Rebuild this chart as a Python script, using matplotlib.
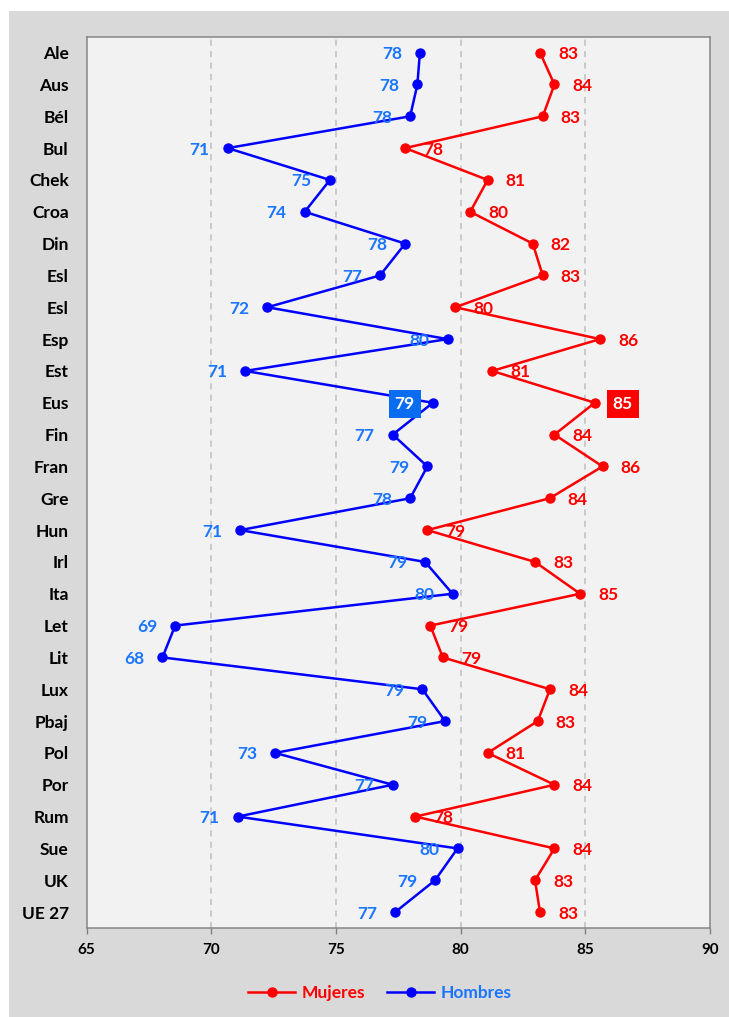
import matplotlib
matplotlib.use("Agg")
import matplotlib.pyplot as plt
from matplotlib.patches import Rectangle
from matplotlib.lines import Line2D

categories = ["Ale", "Aus", "Bél", "Bul", "Chek", "Croa", "Din", "Esl", "Esl", "Esp",
              "Est", "Eus", "Fin", "Fran", "Gre", "Hun", "Irl", "Ita", "Let", "Lit",
              "Lux", "Pbaj", "Pol", "Por", "Rum", "Sue", "UK", "UE 27"]

hombres = [78.37, 78.27, 77.98, 70.66, 74.76, 73.75, 77.78, 76.77, 72.25, 79.48,
           71.36, 78.89, 77.28, 78.67, 77.98, 71.16, 78.58, 79.68, 68.55, 68.04,
           78.47, 79.38, 72.56, 77.28, 71.06, 79.88, 78.98, 77.38]
hombres_labels = [78, 78, 78, 71, 75, 74, 78, 77, 72, 80,
                  71, 79, 77, 79, 78, 71, 79, 80, 69, 68,
                  79, 79, 73, 77, 71, 80, 79, 77]

mujeres = [83.19, 83.77, 83.30, 77.78, 81.09, 80.39, 82.90, 83.30, 79.79, 85.60,
           81.27, 85.39, 83.77, 85.70, 83.58, 78.67, 82.99, 84.80, 78.79, 79.29,
           83.59, 83.10, 81.09, 83.77, 78.19, 83.77, 82.99, 83.19]
mujeres_labels = [83, 84, 83, 78, 81, 80, 82, 83, 80, 86,
                  81, 85, 84, 86, 84, 79, 83, 85, 79, 79,
                  84, 83, 81, 84, 78, 84, 83, 83]

highlight = "Eus"
x_ticks = [65, 70, 75, 80, 85, 90]

RED = "#ff0000"
BLUE_LINE = "#0000ff"
BLUE_TEXT = "#1a75ff"
FONT = "Lato"

W, H = 729, 1017
fig = plt.figure(figsize=(W / 100, H / 100), dpi=100)
fig.patch.set_facecolor("white")
fig.patches.append(Rectangle((9 / W, 0), 1 - 9 / W, 1 - 11 / H, transform=fig.transFigure,
                             facecolor="#d9d9d9", edgecolor="none", zorder=-10))

ax = fig.add_axes([86.7 / W, 1 - 928 / H, (709.7 - 86.7) / W, (928 - 36.7) / H])
ax.set_zorder(1)
ax.set_facecolor("#f2f2f2")

ys = list(range(len(categories)))
ax.plot(mujeres, ys, color=RED, lw=1.8, marker="o", ms=6.5, zorder=3, label="Mujeres")
ax.plot(hombres, ys, color=BLUE_LINE, lw=1.8, marker="o", ms=6.5, zorder=3, label="Hombres")

ax.set_xlim(65, 90)
ax.set_ylim(len(categories) - 0.5, -0.5)
ax.set_xticks(x_ticks)
ax.set_xticklabels([str(t) for t in x_ticks], fontfamily=FONT, fontweight="bold", fontsize=11)
ax.set_yticks(ys)
ax.set_yticklabels(categories, fontfamily=FONT, fontweight="bold", fontsize=12.5)
ax.tick_params(axis="y", length=0, pad=13)
ax.tick_params(axis="x", length=4, width=1, color="#808080", pad=7)

for xg in x_ticks[1:-1]:
    ax.axvline(xg, color="#bfbfbf", lw=1.1, ls=(0, (4, 3.5)), zorder=1)

for s in ax.spines.values():
    s.set_color("#868686")
    s.set_linewidth(1.1)

off = 13
fs = 12.5
for i, cat in enumerate(categories):
    hl = cat == highlight
    ax.annotate(str(hombres_labels[i]), (hombres[i], ys[i]), xytext=(-off, 0),
                textcoords="offset points", ha="right", va="center_baseline",
                color="white" if hl else BLUE_TEXT, fontfamily=FONT, fontweight="bold",
                fontsize=fs, zorder=4,
                bbox=dict(boxstyle="square,pad=0.35", fc="#0a6cf0", ec="none") if hl else None)
    ax.annotate(str(mujeres_labels[i]), (mujeres[i], ys[i]), xytext=(off, 0),
                textcoords="offset points", ha="left", va="center_baseline",
                color="white" if hl else RED, fontfamily=FONT, fontweight="bold",
                fontsize=fs, zorder=4,
                bbox=dict(boxstyle="square,pad=0.35", fc=RED, ec="none") if hl else None)

handles = [Line2D([], [], color=RED, lw=1.8, marker="o", ms=6.5),
           Line2D([], [], color=BLUE_LINE, lw=1.8, marker="o", ms=6.5)]
leg = fig.legend(handles, ["Mujeres", "Hombres"], loc="center", bbox_to_anchor=(0.521, 1 - 992.7 / H),
                 ncol=2, frameon=False, handlelength=2.7, handletextpad=0.35, columnspacing=1.3,
                 prop={"family": FONT, "weight": "bold", "size": 12.5})
for t, c in zip(leg.get_texts(), [RED, BLUE_TEXT]):
    t.set_color(c)

fig.savefig("out.png", dpi=100)
